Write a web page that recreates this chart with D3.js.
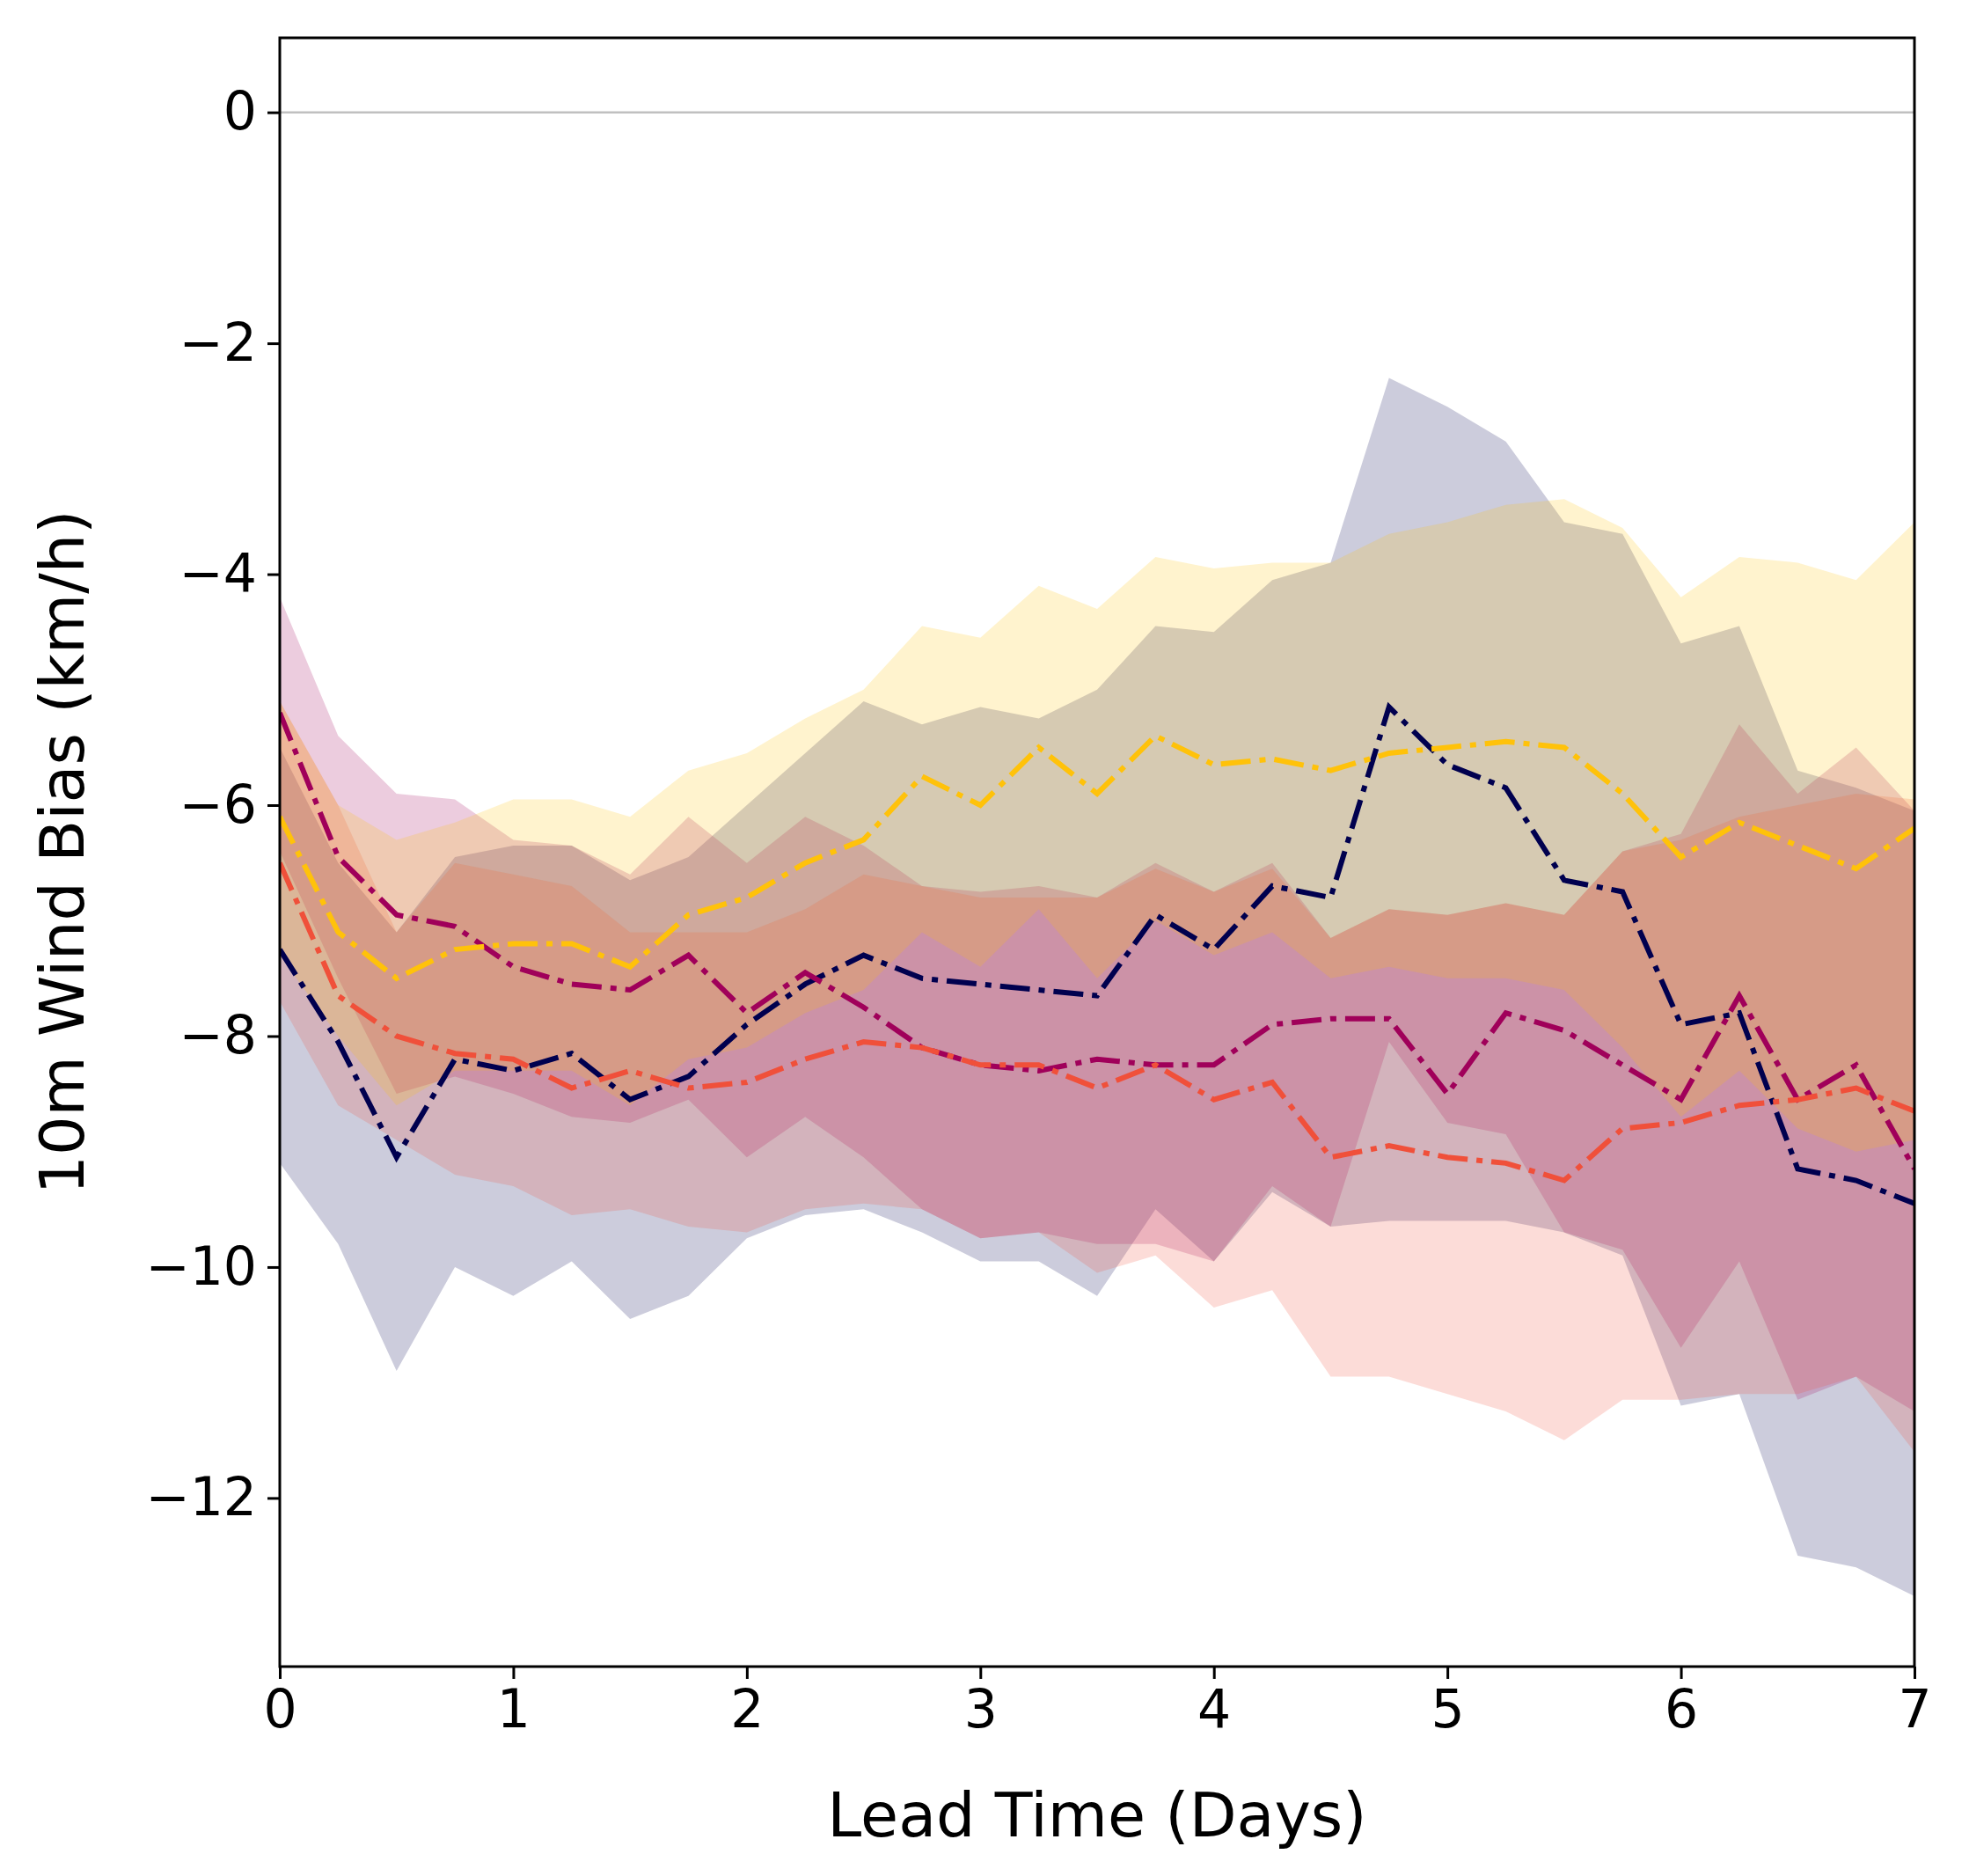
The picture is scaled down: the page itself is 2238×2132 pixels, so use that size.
<!DOCTYPE html>
<html><head><meta charset="utf-8">
<script src="https://cdn.jsdelivr.net/npm/d3@7"></script>
<style>body{margin:0;background:#fff}</style>
</head><body><svg id="chart"></svg>
<script>
const leadTime = d3.range(29).map(i => i * 0.25);
const yTicks = [0, -2, -4, -6, -8, -10, -12];

const navyMean = [-7.25,-8.05,-9.05,-8.2,-8.3,-8.15,-8.55,-8.35,-7.9,-7.55,-7.3,-7.5,-7.55,-7.6,-7.65,-6.95,-7.25,-6.7,-6.8,-5.15,-5.65,-5.85,-6.65,-6.75,-7.9,-7.8,-9.15,-9.25,-9.45];
const navyHigh = [-5.5,-6.5,-7.1,-6.45,-6.35,-6.35,-6.65,-6.45,-6.0,-5.55,-5.1,-5.3,-5.15,-5.25,-5.0,-4.45,-4.5,-4.05,-3.9,-2.3,-2.55,-2.85,-3.55,-3.65,-4.6,-4.45,-5.7,-5.85,-6.05];
const navyLow = [-9.1,-9.8,-10.9,-10.0,-10.25,-9.95,-10.45,-10.25,-9.75,-9.55,-9.5,-9.7,-9.95,-9.95,-10.25,-9.5,-9.95,-9.35,-9.65,-9.6,-9.6,-9.6,-9.7,-9.9,-11.2,-11.1,-12.5,-12.6,-12.85];

const crimsonMean = [-5.2,-6.45,-6.95,-7.05,-7.4,-7.55,-7.6,-7.3,-7.8,-7.45,-7.75,-8.1,-8.25,-8.3,-8.2,-8.25,-8.25,-7.9,-7.85,-7.85,-8.5,-7.8,-7.95,-8.25,-8.55,-7.65,-8.55,-8.25,-9.15];
const crimsonHigh = [-4.2,-5.4,-5.9,-5.95,-6.3,-6.35,-6.6,-6.1,-6.5,-6.1,-6.35,-6.7,-6.75,-6.7,-6.8,-6.5,-6.75,-6.5,-7.15,-6.9,-6.95,-6.85,-6.95,-6.4,-6.25,-5.3,-5.9,-5.5,-6.05];
const crimsonLow = [-6.4,-7.5,-8.5,-8.35,-8.5,-8.7,-8.75,-8.55,-9.05,-8.7,-9.05,-9.5,-9.75,-9.7,-9.8,-9.8,-9.95,-9.3,-9.65,-8.05,-8.75,-8.85,-9.7,-9.85,-10.7,-9.95,-11.15,-10.95,-11.25];

const redMean = [-6.5,-7.65,-8.0,-8.15,-8.2,-8.45,-8.3,-8.45,-8.4,-8.2,-8.05,-8.1,-8.25,-8.25,-8.45,-8.25,-8.55,-8.4,-9.05,-8.95,-9.05,-9.1,-9.25,-8.8,-8.75,-8.6,-8.55,-8.45,-8.65];
const redHigh = [-5.1,-6.0,-7.1,-6.5,-6.6,-6.7,-7.1,-7.1,-7.1,-6.9,-6.6,-6.7,-6.8,-6.8,-6.8,-6.55,-6.75,-6.55,-7.15,-6.9,-6.95,-6.85,-6.95,-6.4,-6.3,-6.1,-6.0,-5.9,-5.95];
const redLow = [-7.7,-8.6,-8.9,-9.2,-9.3,-9.55,-9.5,-9.65,-9.7,-9.5,-9.45,-9.5,-9.75,-9.7,-10.05,-9.9,-10.35,-10.2,-10.95,-10.95,-11.1,-11.25,-11.5,-11.15,-11.15,-11.1,-11.1,-10.95,-11.6];

const yellowMean = [-6.1,-7.1,-7.5,-7.25,-7.2,-7.2,-7.4,-6.95,-6.8,-6.5,-6.3,-5.75,-6.0,-5.5,-5.9,-5.4,-5.65,-5.6,-5.7,-5.55,-5.5,-5.45,-5.5,-5.9,-6.45,-6.15,-6.35,-6.55,-6.2];
const yellowHigh = [-5.1,-6.0,-6.3,-6.15,-5.95,-5.95,-6.1,-5.7,-5.55,-5.25,-5.0,-4.45,-4.55,-4.1,-4.3,-3.85,-3.95,-3.9,-3.9,-3.65,-3.55,-3.4,-3.35,-3.6,-4.2,-3.85,-3.9,-4.05,-3.55];
const yellowLow = [-7.3,-8.0,-8.6,-8.3,-8.3,-8.3,-8.6,-8.2,-8.1,-7.8,-7.6,-7.1,-7.4,-6.9,-7.5,-7.0,-7.3,-7.1,-7.5,-7.4,-7.5,-7.5,-7.6,-8.1,-8.7,-8.3,-8.8,-9.0,-8.9];

const series = [
  {color: '#00004f', mean: navyMean, high: navyHigh, low: navyLow},
  {color: '#a0005a', mean: crimsonMean, high: crimsonHigh, low: crimsonLow},
  {color: '#f0503a', mean: redMean, high: redHigh, low: redLow},
  {color: '#ffc20a', mean: yellowMean, high: yellowHigh, low: yellowLow}
];

const W = 2238, H = 2132;
const m = {left: 318, right: 62, top: 43, bottom: 238};
const svg = d3.select('#chart').attr('width', W).attr('height', H)
  .style('font-family', 'DejaVu Sans');

const x = d3.scaleLinear().domain([0, 7]).range([m.left, W - m.right]);
const y = d3.scaleLinear().domain([-13.46, 0.645]).range([H - m.bottom, m.top]);

svg.append('clipPath').attr('id', 'clip').append('rect')
  .attr('x', m.left).attr('y', m.top)
  .attr('width', W - m.left - m.right).attr('height', H - m.top - m.bottom);

const plot = svg.append('g').attr('clip-path', 'url(#clip)');

plot.append('line').attr('x1', m.left).attr('x2', W - m.right)
  .attr('y1', y(0)).attr('y2', y(0))
  .attr('stroke', '#c0c0c0').attr('stroke-width', 2.5);

const area = d3.area().x((d, i) => x(leadTime[i])).y0(d => y(d[0])).y1(d => y(d[1]));
series.forEach(s => {
  plot.append('path').datum(s.low.map((v, i) => [v, s.high[i]]))
    .attr('d', area).attr('fill', s.color).attr('fill-opacity', 0.2);
});

const line = d3.line().x((d, i) => x(leadTime[i])).y(d => y(d));
series.forEach(s => {
  plot.append('path').datum(s.mean).attr('d', line)
    .attr('fill', 'none').attr('stroke', s.color).attr('stroke-width', 6)
    .attr('stroke-dasharray', '34,10,7,10');
});

const xAxis = svg.append('g').attr('transform', `translate(0,${H - m.bottom})`)
  .call(d3.axisBottom(x).ticks(7).tickSize(14).tickPadding(12));
const yAxis = svg.append('g').attr('transform', `translate(${m.left},0)`)
  .call(d3.axisLeft(y).tickValues(yTicks).tickSize(14).tickPadding(12)
    .tickFormat(d => d < 0 ? '\u2212' + Math.abs(d) : d));
[xAxis, yAxis].forEach(a => {
  a.selectAll('text').style('font-size', '60px').style('font-family', 'DejaVu Sans').attr('fill', '#000');
  a.selectAll('line').attr('stroke-width', 3);
  a.select('.domain').remove();
});

svg.append('rect').attr('x', m.left).attr('y', m.top)
  .attr('width', W - m.left - m.right).attr('height', H - m.top - m.bottom)
  .attr('fill', 'none').attr('stroke', '#000').attr('stroke-width', 3);

svg.append('text').attr('x', (m.left + W - m.right) / 2).attr('y', H - 45)
  .attr('text-anchor', 'middle').style('font-size', '70px').text('Lead Time (Days)');
svg.append('text').attr('transform', `translate(95,${(m.top + H - m.bottom) / 2}) rotate(-90)`)
  .attr('text-anchor', 'middle').style('font-size', '70px').text('10m Wind Bias (km/h)');
</script></body></html>
